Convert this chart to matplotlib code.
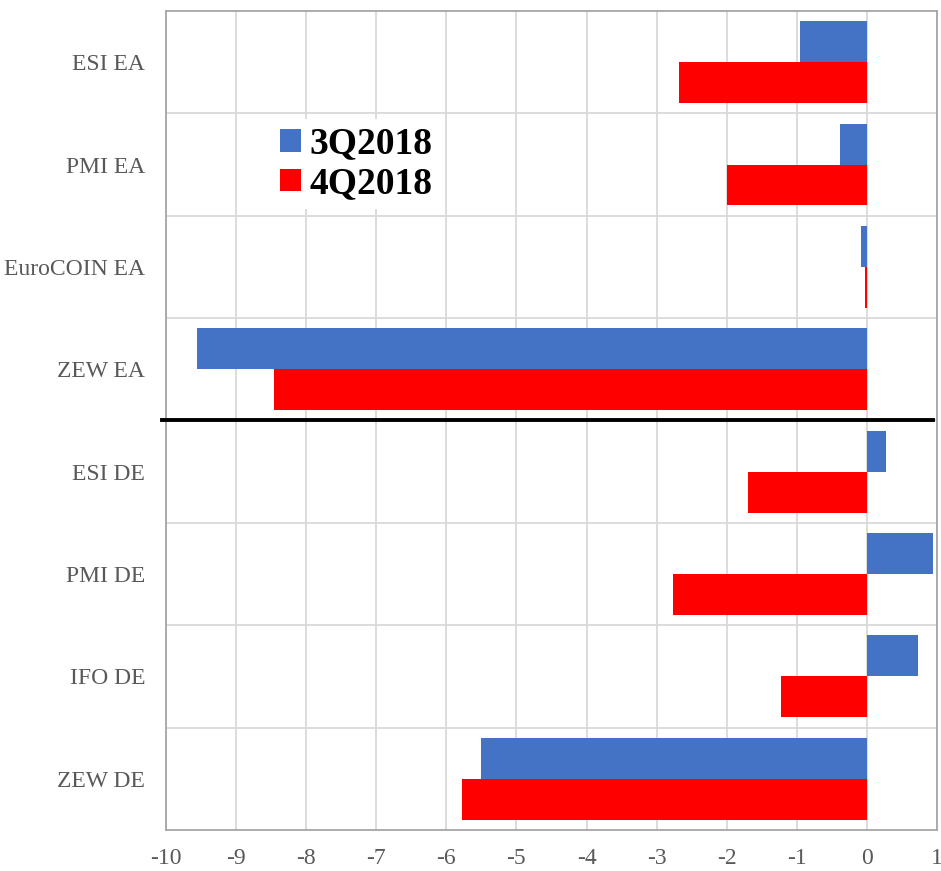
import numpy as np
import matplotlib.pyplot as plt

# Data
categories = ["ESI EA", "PMI EA", "EuroCOIN EA", "ZEW EA",
              "ESI DE", "PMI DE", "IFO DE", "ZEW DE"]
q3_2018 = [-0.95, -0.38, -0.08, -9.56, 0.28, 0.95, 0.73, -5.50]
q4_2018 = [-2.68, -1.99, -0.02, -8.46, -1.69, -2.76, -1.23, -5.78]
xticks = list(range(-10, 2))

plt.rcParams["font.family"] = ["Liberation Serif", "DejaVu Serif"]

fig = plt.figure(figsize=(9.41, 8.71), dpi=100)
ax = fig.add_axes([0.1764, 0.0471, 0.8193, 0.9403])

y = np.arange(len(categories))
h = 0.4
ax.barh(y - h / 2, q3_2018, height=h, color="#4472c4", label="3Q2018", zorder=3)
ax.barh(y + h / 2, q4_2018, height=h, color="#ff0000", label="4Q2018", zorder=3)

ax.set_xlim(-10, 1)
ax.set_ylim(len(categories) - 0.5, -0.5)
ax.set_xticks(xticks)
ax.set_xticklabels([str(t) for t in xticks])
ax.set_yticks(y)
ax.set_yticklabels(categories)

# gridlines: vertical at ticks, horizontal between categories
for t in xticks:
    ax.axvline(t, color="#d9d9d9", lw=1.3, zorder=1)
for b in np.arange(0.5, len(categories) - 0.5, 1):
    ax.axhline(b, color="#d9d9d9", lw=1.3, zorder=1)

# separator between EA and DE
ax.plot([-10.06, 0.95], [3.5, 3.5], color="black", lw=2.8, zorder=4, clip_on=False)

for s in ax.spines.values():
    s.set_color("#a6a6a6")
    s.set_linewidth(1.3)

ax.tick_params(axis="both", length=0, colors="#595959", labelsize=17)
ax.tick_params(axis="y", pad=15)
ax.tick_params(axis="x", pad=13)

leg = ax.legend(loc="upper left", bbox_to_anchor=(0.138, 0.868), frameon=True,
                prop={"weight": "bold", "size": 27}, handlelength=0.55, handleheight=0.55,
                handletextpad=0.25, labelspacing=0.12, borderpad=0.2, borderaxespad=0)
leg.get_frame().set_edgecolor("none")
leg.get_frame().set_facecolor("white")
leg.get_frame().set_alpha(1)
leg.set_zorder(5)

fig.savefig("out.png", dpi=100)
